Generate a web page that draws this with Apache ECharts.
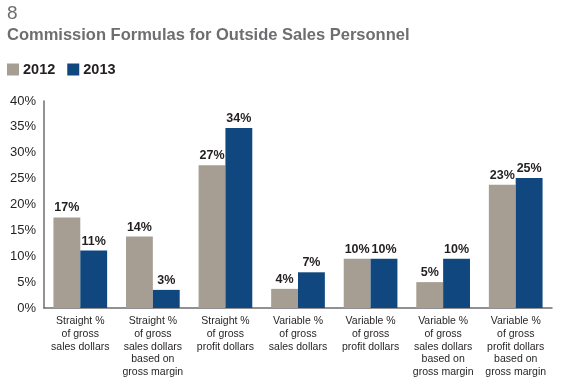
<!DOCTYPE html>
<html><head><meta charset="utf-8">
<script src="https://cdn.jsdelivr.net/npm/echarts@6/dist/echarts.min.js"></script>
<style>html,body{margin:0;padding:0;background:#fff}#c{width:563px;height:380px}</style>
</head><body><div id="c"></div>
<script>
const categories = [
  "Straight %\nof gross\nsales dollars",
  "Straight %\nof gross\nsales dollars\nbased on\ngross margin",
  "Straight %\nof gross\nprofit dollars",
  "Variable %\nof gross\nsales dollars",
  "Variable %\nof gross\nprofit dollars",
  "Variable %\nof gross\nsales dollars\nbased on\ngross margin",
  "Variable %\nof gross\nprofit dollars\nbased on\ngross margin"
];
const values2012 = [17.5, 13.8, 27.6, 3.7, 9.5, 5.0, 23.8];
const values2013 = [11.1, 3.5, 34.8, 6.9, 9.5, 9.5, 25.1];
const labels2012 = ["17%", "14%", "27%", "4%", "10%", "5%", "23%"];
const labels2013 = ["11%", "3%", "34%", "7%", "10%", "10%", "25%"];
const yTicks = [0, 5, 10, 15, 20, 25, 30, 35, 40];

const FONT = "Liberation Sans, Arial, Helvetica, sans-serif";
const chart = echarts.init(document.getElementById('c'));
chart.setOption({
  animation: false,
  textStyle: { fontFamily: FONT },
  title: [
    { text: "8", left: 7, top: 4, padding: 0, textStyle: { fontSize: 19, fontWeight: 'normal', color: '#6d6e70', fontFamily: FONT } },
    { text: "Commission Formulas for Outside Sales Personnel", left: 7, top: 27, padding: 0, textStyle: { fontSize: 16.5, fontWeight: 'bold', color: '#6d6e70', fontFamily: FONT } }
  ],
  legend: {
    left: 7, top: 62, padding: 0, itemWidth: 12, itemHeight: 12, itemGap: 12,
    icon: 'rect',
    textStyle: { fontSize: 14.5, fontWeight: 'bold', color: '#231f20', fontFamily: FONT, padding: [0, 0, 0, -1] },
    data: ['2012', '2013']
  },
  grid: { left: 44, right: 11, top: 101, bottom: 72 },
  xAxis: {
    type: 'category', data: categories,
    axisLine: { lineStyle: { color: '#6d6e70', width: 1.5 } },
    axisTick: { show: false },
    axisLabel: { interval: 0, fontSize: 10.5, color: '#231f20', lineHeight: 12.7, margin: 7, fontFamily: FONT }
  },
  yAxis: {
    type: 'value', min: 0, max: 40, interval: 5,
    axisLine: { show: true, lineStyle: { color: '#6d6e70', width: 1.5 } },
    axisTick: { show: false },
    splitLine: { show: false },
    axisLabel: { fontSize: 13, color: '#231f20', margin: 8, fontFamily: FONT,
      formatter: v => yTicks.includes(v) ? v + '%' : '' }
  },
  series: [
    { name: '2012', type: 'bar', data: values2012, barGap: '0%', barCategoryGap: '26%',
      itemStyle: { color: '#a69e93' },
      label: { show: true, position: 'top', distance: 3, fontSize: 12.5, fontWeight: 'bold', color: '#231f20', fontFamily: FONT,
        formatter: p => labels2012[p.dataIndex] } },
    { name: '2013', type: 'bar', data: values2013, barGap: '0%', barCategoryGap: '26%',
      itemStyle: { color: '#10477f' },
      label: { show: true, position: 'top', distance: 3, fontSize: 12.5, fontWeight: 'bold', color: '#231f20', fontFamily: FONT,
        formatter: p => labels2013[p.dataIndex] } }
  ]
});
</script></body></html>
